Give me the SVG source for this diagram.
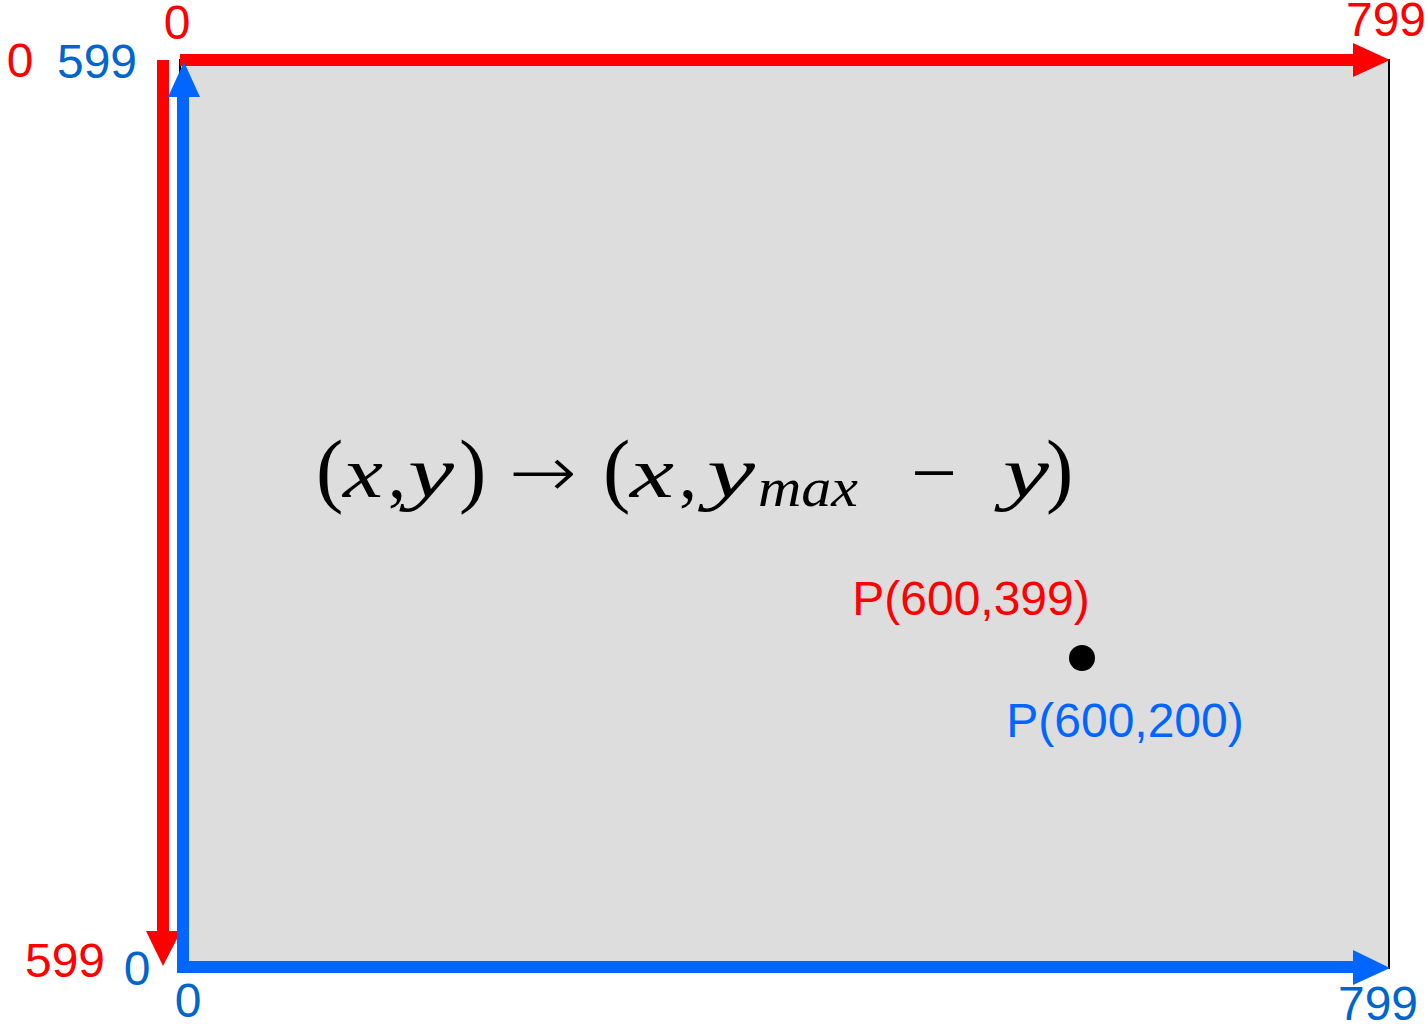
<svg xmlns="http://www.w3.org/2000/svg" width="1427" height="1029" viewBox="0 0 1427 1029">
<style>
.lbl{font-family:"Liberation Sans",Arial,sans-serif;font-size:48px}
.red{fill:#ff0000}
.blue{fill:#0066cc}
.pblue{fill:#0066ff}
.math{font-family:"Liberation Serif","Times New Roman",serif;font-size:72px;fill:#000}
.par{font-size:82px}
.mi{font-style:italic}
.sym{font-family:"DejaVu Sans",sans-serif;font-weight:200}
</style>
<rect x="0" y="0" width="1427" height="1029" fill="#ffffff"/>
<g id="canvas">
<rect x="180" y="60" width="1209" height="908" fill="#dddddd" stroke="#000" stroke-width="2"/>
</g>
<g id="connectors">
<line x1="180" y1="60" x2="1356" y2="60" stroke="#ff0000" stroke-width="12"/>
<polygon points="1353,43 1390,60 1353,77" fill="#ff0000"/>
<line x1="163" y1="60" x2="163" y2="934" stroke="#ff0000" stroke-width="12"/>
<polygon points="146,931 181,931 163,966" fill="#ff0000"/>
<line x1="183" y1="970" x2="183" y2="94" stroke="#0066ff" stroke-width="12"/>
<polygon points="168,97 200,97 184,62" fill="#0066ff"/>
<line x1="177" y1="967" x2="1356" y2="967" stroke="#0066ff" stroke-width="12"/>
<polygon points="1353,950 1390,968 1353,985" fill="#0066ff"/>
</g>
<g id="labels">
<text class="lbl red" x="177" y="39" text-anchor="middle">0</text>
<text class="lbl red" x="20" y="77" text-anchor="middle">0</text>
<text class="lbl blue" x="97" y="78" text-anchor="middle">599</text>
<text class="lbl red" x="1386" y="36" text-anchor="middle">799</text>
<text class="lbl red" x="65" y="977" text-anchor="middle">599</text>
<text class="lbl blue" x="137" y="985" text-anchor="middle">0</text>
<text class="lbl blue" x="188" y="1017" text-anchor="middle">0</text>
<text class="lbl blue" x="1378" y="1020" text-anchor="middle">799</text>
</g>
<g id="point">
<circle cx="1082" cy="658" r="13" fill="#000"/>
<text class="lbl red" x="971" y="615" text-anchor="middle">P(600,399)</text>
<text class="lbl pblue" x="1125" y="737" text-anchor="middle">P(600,200)</text>
</g>
<g id="formula" class="math">
<text class="par" x="316" y="497">(</text>
<text class="mi" x="343" y="497" textLength="40" lengthAdjust="spacingAndGlyphs">x</text>
<text x="388" y="497">,</text>
<text class="mi" x="408" y="497" textLength="46" lengthAdjust="spacingAndGlyphs">y</text>
<text class="par" x="459" y="497">)</text>
<text class="sym" x="509" y="497" textLength="68" lengthAdjust="spacingAndGlyphs">→</text>
<text class="par" x="603" y="497">(</text>
<text class="mi" x="630" y="497" textLength="44" lengthAdjust="spacingAndGlyphs">x</text>
<text x="679" y="497">,</text>
<text class="mi" x="707" y="497" textLength="48" lengthAdjust="spacingAndGlyphs">y</text>
<text class="mi" x="758" y="506" style="font-size:54px" textLength="100" lengthAdjust="spacingAndGlyphs">max</text>
<text x="911" y="497" textLength="46" lengthAdjust="spacingAndGlyphs">−</text>
<text class="mi" x="1003" y="497" textLength="46" lengthAdjust="spacingAndGlyphs">y</text>
<text class="par" x="1046" y="497">)</text>
</g>
</svg>
